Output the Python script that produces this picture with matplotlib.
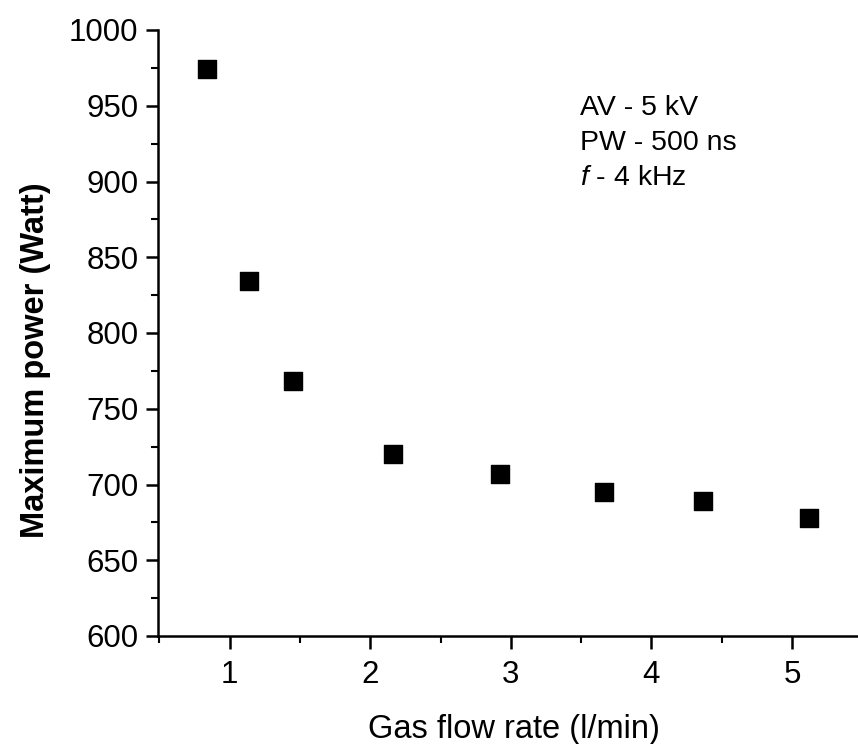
import matplotlib
matplotlib.use("Agg")
import matplotlib.pyplot as plt
from matplotlib.ticker import MultipleLocator

flow_rate = [0.84, 1.14, 1.45, 2.16, 2.92, 3.66, 4.37, 5.12]
max_power = [974, 834, 768, 720, 707, 695, 689, 678]
annotation_lines = ["AV - 5 kV", "PW - 500 ns", "$f$ - 4 kHz"]

plt.rcParams['font.family'] = ['Liberation Sans', 'DejaVu Sans']
plt.rcParams['mathtext.fontset'] = 'custom'
plt.rcParams['mathtext.it'] = 'Liberation Sans:italic'
plt.rcParams['mathtext.rm'] = 'Liberation Sans'

fig = plt.figure(figsize=(8.58, 7.44), dpi=100)
ax = fig.add_axes([158/858, 108/744, (858-158)/858, 606/744])

ax.scatter(flow_rate, max_power, marker='s', s=150, color='black', zorder=3)

ax.set_xlim(0.49, 5.47)
ax.set_ylim(600, 1000)
ax.xaxis.set_major_locator(MultipleLocator(1))
ax.xaxis.set_minor_locator(MultipleLocator(0.5))
ax.yaxis.set_major_locator(MultipleLocator(50))
ax.yaxis.set_minor_locator(MultipleLocator(25))

for s in ['top', 'right']:
    ax.spines[s].set_visible(False)
for s in ['left', 'bottom']:
    ax.spines[s].set_linewidth(1.8)

ax.tick_params(which='major', direction='out', length=9, width=1.8, labelsize=22.5)
ax.tick_params(axis='y', which='major', pad=5)
ax.tick_params(axis='x', which='major', pad=8)
ax.tick_params(which='minor', direction='out', length=5, width=1.5)

ax.set_xlabel("Gas flow rate (l/min)", fontsize=23.5)
ax.xaxis.set_label_coords(0.508, -0.128)
ax.set_ylabel("Maximum power (Watt)", fontsize=23.5, fontweight='bold')
ax.yaxis.set_label_coords(-0.153, 0.455)

ax.text(0.603, 0.893, "\n".join(annotation_lines), transform=ax.transAxes,
        fontsize=20.5, va='top', ha='left', linespacing=1.45)

fig.savefig("out.png", dpi=100)
